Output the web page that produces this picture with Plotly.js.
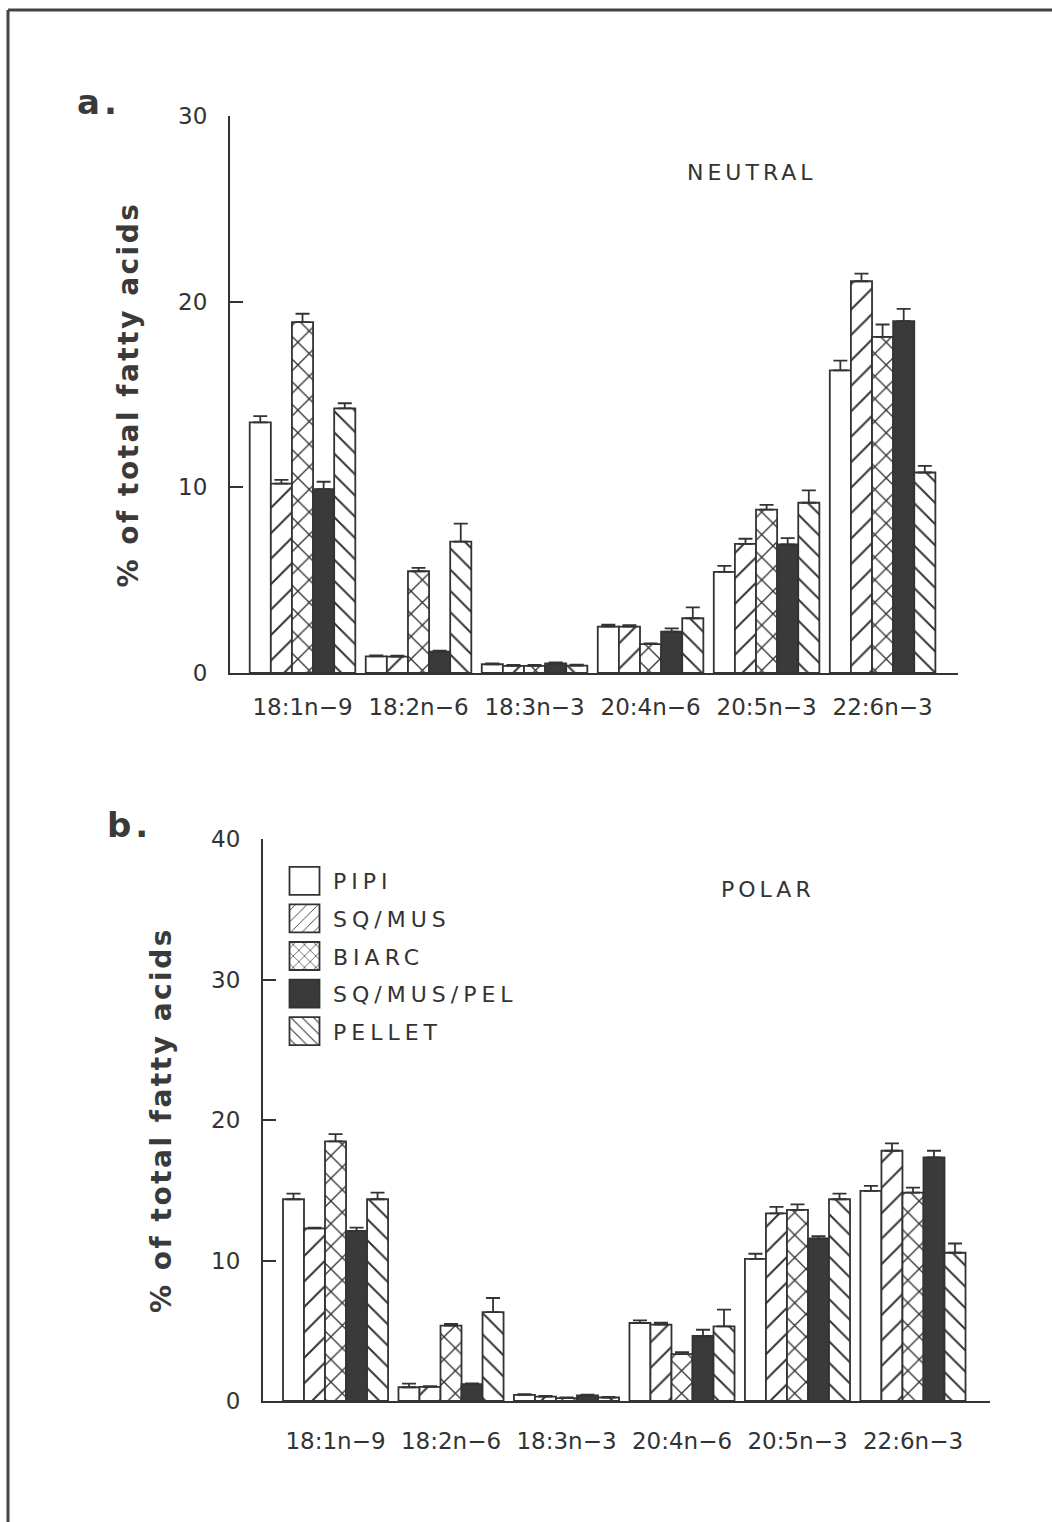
<!DOCTYPE html>
<html>
<head>
<meta charset="utf-8">
<script src="https://cdn.plot.ly/plotly-3.0.1.min.js"></script>
<style>
  html, body { margin: 0; padding: 0; background: #fff; }
  #chart { width: 1052px; height: 1522px; }
  .annotation-text { letter-spacing: 4px; }
  .legendtext { letter-spacing: 5px; }
  .g-ytitle text, .g-y2title text { letter-spacing: 2.5px; }
</style>
</head>
<body>
<div id="chart"></div>
<script>
// ---- data ----
const categories = ["18:1n\u22129", "18:2n\u22126", "18:3n\u22123", "20:4n\u22126", "20:5n\u22123", "22:6n\u22123"];
const seriesNames = ["PIPI", "SQ/MUS", "BIARC", "SQ/MUS/PEL", "PELLET"];

// a. NEUTRAL lipids (% of total fatty acids)
const neutralPIPI    = [13.5, 0.9, 0.47, 2.5, 5.45, 16.3];
const neutralSQMUS   = [10.2, 0.88, 0.38, 2.5, 6.95, 21.1];
const neutralBIARC   = [18.9, 5.48, 0.38, 1.55, 8.8, 18.1];
const neutralSQMUSPEL= [9.9, 1.15, 0.52, 2.23, 6.92, 18.95];
const neutralPELLET  = [14.25, 7.08, 0.4, 2.95, 9.17, 10.8];
// upper error (SE)
const neutralPIPIErr    = [0.33, 0.05, 0.05, 0.1, 0.32, 0.52];
const neutralSQMUSErr   = [0.2, 0.05, 0.05, 0.08, 0.28, 0.41];
const neutralBIARCErr   = [0.45, 0.18, 0.05, 0.05, 0.25, 0.67];
const neutralSQMUSPELErr= [0.4, 0.05, 0.05, 0.17, 0.34, 0.66];
const neutralPELLETErr  = [0.28, 0.96, 0.05, 0.58, 0.67, 0.36];

// b. POLAR lipids
const polarPIPI    = [14.36, 0.98, 0.43, 5.55, 10.12, 14.95];
const polarSQMUS   = [12.29, 1.0, 0.31, 5.43, 13.36, 17.81];
const polarBIARC   = [18.48, 5.36, 0.2, 3.33, 13.6, 14.83];
const polarSQMUSPEL= [12.1, 1.2, 0.4, 4.64, 11.57, 17.33];
const polarPELLET  = [14.36, 6.33, 0.25, 5.31, 14.36, 10.55];
const polarPIPIErr    = [0.4, 0.26, 0.05, 0.19, 0.36, 0.36];
const polarSQMUSErr   = [0.05, 0.05, 0.05, 0.14, 0.45, 0.52];
const polarBIARCErr   = [0.52, 0.12, 0.05, 0.15, 0.4, 0.36];
const polarSQMUSPELErr= [0.24, 0.05, 0.05, 0.43, 0.17, 0.48];
const polarPELLETErr  = [0.47, 1.0, 0.05, 1.19, 0.4, 0.66];

const yTicksA = [0, 10, 20, 30];
const yTicksB = [0, 10, 20, 30, 40];

// ---- styling ----
const INK = "#333333";
const FONT = "DejaVu Sans";
const styles = [
  {color: "#ffffff", pattern: {shape: ""}},
  {color: "#ffffff", pattern: {shape: "/", size: 18, solidity: 0.11, fgcolor: INK, bgcolor: "#ffffff", fillmode: "replace"}},
  {color: "#ffffff", pattern: {shape: "x", size: 16, solidity: 0.16, fgcolor: INK, bgcolor: "#ffffff", fillmode: "replace"}},
  {color: "#3a3a3a", pattern: {shape: ""}},
  {color: "#ffffff", pattern: {shape: "\\", size: 15, solidity: 0.13, fgcolor: INK, bgcolor: "#ffffff", fillmode: "replace"}}
];

const neutral = [neutralPIPI, neutralSQMUS, neutralBIARC, neutralSQMUSPEL, neutralPELLET];
const neutralErr = [neutralPIPIErr, neutralSQMUSErr, neutralBIARCErr, neutralSQMUSPELErr, neutralPELLETErr];
const polar = [polarPIPI, polarSQMUS, polarBIARC, polarSQMUSPEL, polarPELLET];
const polarErr = [polarPIPIErr, polarSQMUSErr, polarBIARCErr, polarSQMUSPELErr, polarPELLETErr];

const zeros = categories.map(() => 0);
function makeTrace(i, ys, errs, xa, ya, showLegend) {
  return {
    type: "bar",
    name: seriesNames[i],
    legendgroup: seriesNames[i],
    showlegend: showLegend,
    x: categories,
    y: ys,
    xaxis: xa, yaxis: ya,
    marker: {color: styles[i].color, pattern: styles[i].pattern, line: {color: INK, width: 1.8}},
    error_y: {type: "data", array: errs, arrayminus: zeros, symmetric: false,
              color: INK, thickness: 1.8, width: 7},
    hoverinfo: "name+x+y"
  };
}

const traces = [];
for (let i = 0; i < 5; i++) traces.push(makeTrace(i, neutral[i], neutralErr[i], "x", "y", false));
for (let i = 0; i < 5; i++) traces.push(makeTrace(i, polar[i], polarErr[i], "x2", "y2", true));

const H = 1522, W = 1052;
const px = v => v / W;
const py = v => 1 - v / H;

const axisCommon = {
  showgrid: false, zeroline: false, showline: true, linecolor: INK, linewidth: 2,
  tickfont: {family: FONT, size: 23, color: INK}
};
const titleFont = {family: FONT, size: 28, color: "#3a3a3a", weight: "bold"};

const layout = {
  width: W, height: H,
  margin: {l: 0, r: 0, t: 0, b: 0},
  paper_bgcolor: "#ffffff", plot_bgcolor: "rgba(0,0,0,0)",
  barmode: "group", bargap: 0.09, bargroupgap: 0,
  font: {family: FONT, color: INK},
  showlegend: true,
  legend: {
    x: px(276), y: py(860), xanchor: "left", yanchor: "top",
    font: {family: FONT, size: 22, color: INK},
    itemwidth: 47, tracegroupgap: 6, bgcolor: "rgba(0,0,0,0)",
    traceorder: "grouped"
  },
  xaxis: Object.assign({}, axisCommon, {
    domain: [px(230), px(958)], range: [-0.625, 5.65], anchor: "y",
    type: "category", ticks: "", ticklabelstandoff: 12
  }),
  yaxis: Object.assign({}, axisCommon, {
    domain: [py(673), py(116)], range: [0, 30], anchor: "x",
    tickvals: yTicksA, ticks: "inside", ticklen: 13, tickwidth: 2, tickcolor: INK,
    ticklabelstandoff: 16,
    title: {text: "% of total fatty acids", font: titleFont, standoff: 31}
  }),
  xaxis2: Object.assign({}, axisCommon, {
    domain: [px(263), px(990)], range: [-0.628, 5.667], anchor: "y2",
    type: "category", ticks: "", ticklabelstandoff: 18
  }),
  yaxis2: Object.assign({}, axisCommon, {
    domain: [py(1401), py(839)], range: [0, 40], anchor: "x2",
    tickvals: yTicksB, ticks: "inside", ticklen: 13, tickwidth: 2, tickcolor: INK,
    ticklabelstandoff: 16,
    title: {text: "% of total fatty acids", font: titleFont, standoff: 31}
  }),
  annotations: [
    {text: "a.", xref: "paper", yref: "paper", x: px(75), y: py(102), xanchor: "left", yanchor: "middle",
     showarrow: false, font: {family: FONT, size: 34, color: "#3a3a3a", weight: "bold"}},
    {text: "b.", xref: "paper", yref: "paper", x: px(105), y: py(825), xanchor: "left", yanchor: "middle",
     showarrow: false, font: {family: FONT, size: 34, color: "#3a3a3a", weight: "bold"}},
    {text: "NEUTRAL", xref: "paper", yref: "paper", x: px(685), y: py(172), xanchor: "left", yanchor: "middle",
     showarrow: false, font: {family: FONT, size: 22, color: INK}},
    {text: "POLAR", xref: "paper", yref: "paper", x: px(719), y: py(889), xanchor: "left", yanchor: "middle",
     showarrow: false, font: {family: FONT, size: 22, color: INK}}
  ],
  shapes: [
    {type: "line", xref: "paper", yref: "paper", x0: px(8), x1: 1, y0: py(10), y1: py(10), line: {color: "#444", width: 3}},
    {type: "line", xref: "paper", yref: "paper", x0: px(8), x1: px(8), y0: 0, y1: py(10), line: {color: "#444", width: 3}}
  ]
};

Plotly.newPlot("chart", traces, layout, {displayModeBar: false, staticPlot: true}).then(() => {
  document.querySelectorAll(".legend .legendpoints path").forEach(p => {
    p.setAttribute("d", "M15,14H-15V-14H15Z");
  });
});
</script>
</body>
</html>
